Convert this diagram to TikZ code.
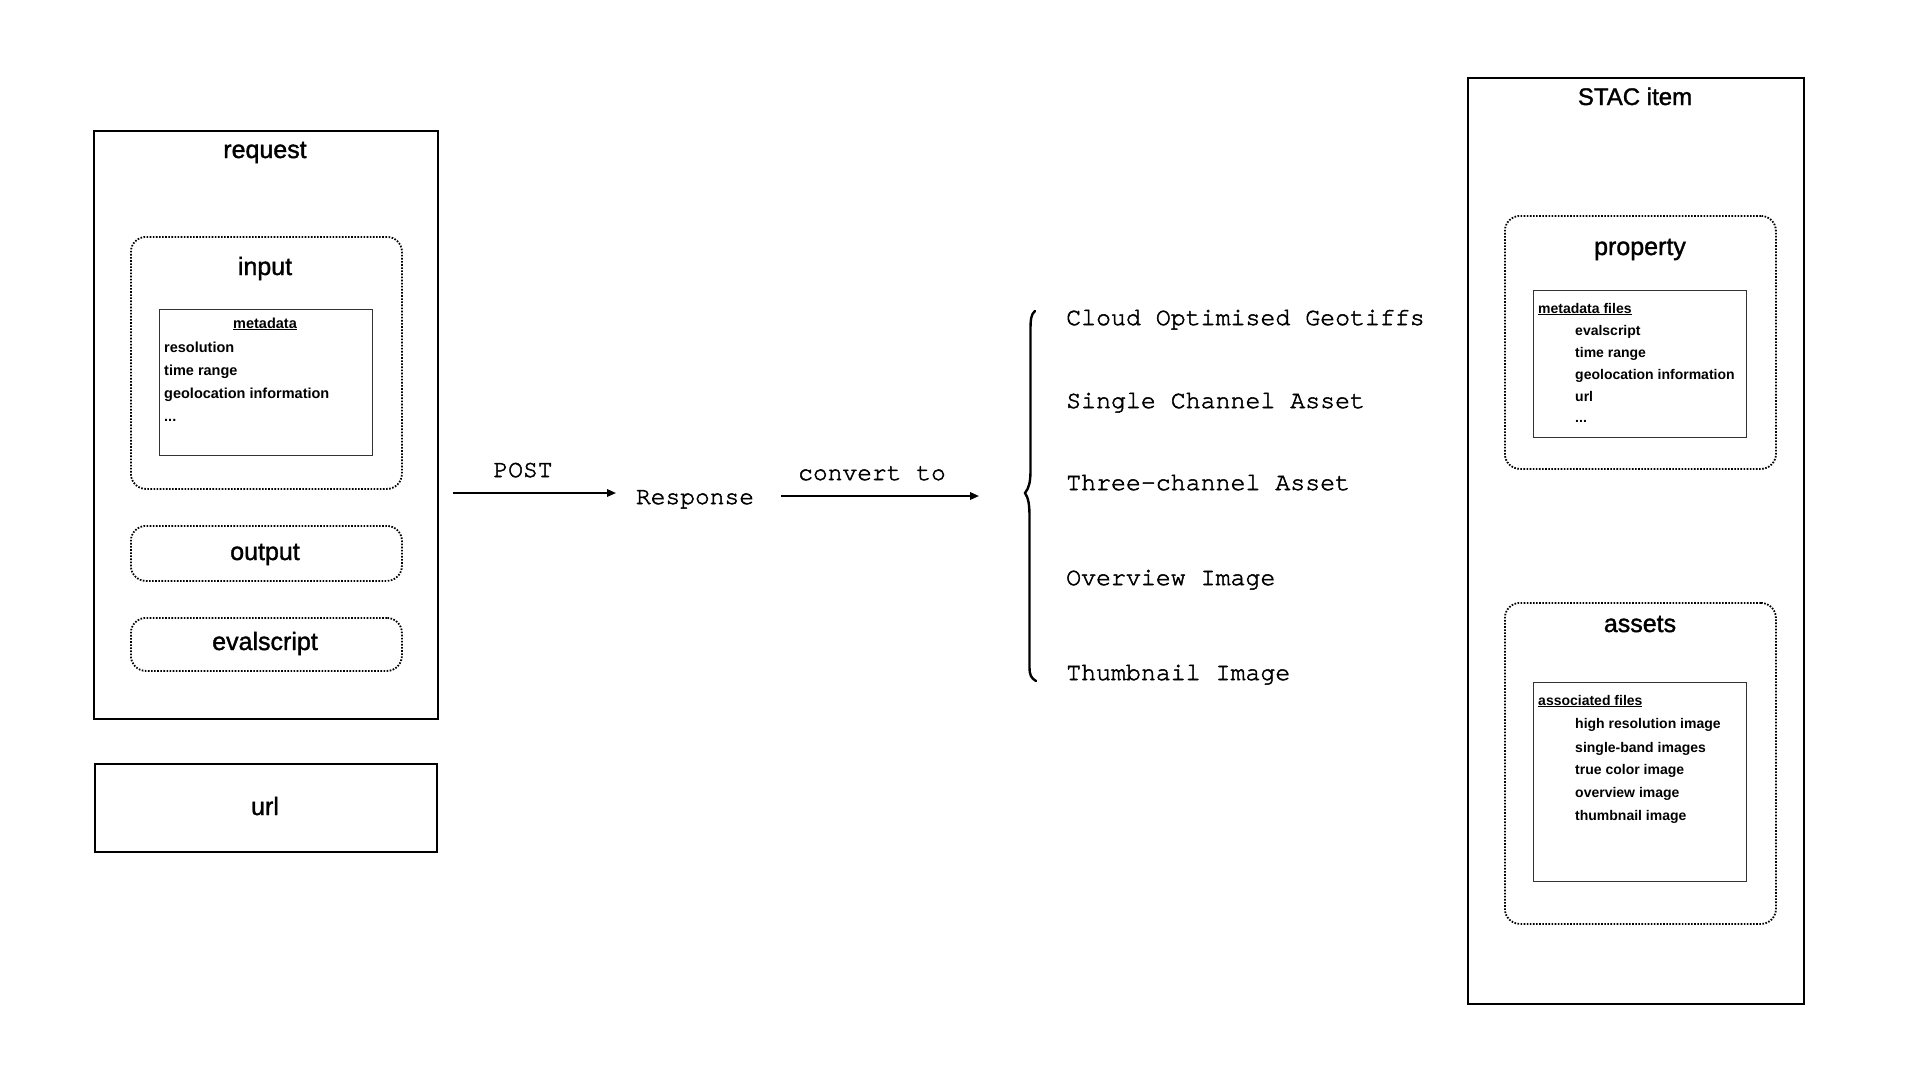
\documentclass[tikz,border=0pt]{standalone}
\usepackage{fontspec}
\setmainfont{Liberation Sans}
\setmonofont{Liberation Mono}
\newfontfamily\titlefont{Liberation Sans}[FakeBold=1.4]
\newfontfamily\monobold{texgyrecursor-regular.otf}[FakeBold=2, Ligatures={NoCommon}]
\usetikzlibrary{arrows.meta}
\begin{document}
\begin{tikzpicture}[x=1pt,y=-1pt,
  outer/.style={draw, line width=2.4pt, rectangle, anchor=north west, inner sep=0pt},
  dotbox/.style={draw, line width=1.8pt, dash pattern=on 1.6pt off 1.5pt, rounded corners=15pt, rectangle, anchor=north west, inner sep=0pt},
  innerbox/.style={draw=black!80, line width=1.2pt, rectangle, anchor=north west, inner sep=0pt},
  title/.style={font=\titlefont\fontsize{25}{30}\selectfont, anchor=base, inner sep=0pt},
  small/.style={font=\bfseries\fontsize{14.5}{17}\selectfont, anchor=base west, inner sep=0pt},
  smallr/.style={font=\bfseries\fontsize{14}{17}\selectfont, anchor=base west, inner sep=0pt},
  smallc/.style={font=\bfseries\fontsize{14.5}{17}\selectfont, anchor=base, inner sep=0pt},
  mono/.style={font=\monobold\fontsize{24.6}{28}\selectfont, anchor=base, inner sep=0pt},
  listtxt/.style={font=\monobold\fontsize{24.9}{28}\selectfont, anchor=base west, inner sep=0pt},
  arr/.style={line width=1.8pt, -{Triangle[length=9pt,width=7.5pt]}},
  bracestyle/.style={line width=2.4pt, line cap=round}
]
\useasboundingbox (0,0) rectangle (1920,1080);
\fill[white] (0,0) rectangle (1920,1080);

% ---------- request side ----------
\node[outer, minimum width=344pt, minimum height=588pt] (req) at (93,130) {};
\node[title] (reqt) at (265,158) {request};
\node[dotbox, minimum width=271pt, minimum height=252pt] (inp) at (130,236) {};
\node[title] (inpt) at (265,275) {input};
\node[innerbox, minimum width=213pt, minimum height=146pt] (meta) at (159,309) {};
\node[smallc] (metat) at (265,328) {\underline{metadata}};
\node[small] (m1) at (164,352) {resolution};
\node[small] (m2) at (164,375) {time range};
\node[small] (m3) at (164,398) {geolocation information};
\node[small] (m4) at (164,421) {...};
\node[dotbox, minimum width=271pt, minimum height=55pt] (outb) at (130,525) {};
\node[title] (outt) at (265,560) {output};
\node[dotbox, minimum width=271pt, minimum height=53pt] (evb) at (130,617) {};
\node[title] (evt) at (265,650) {evalscript};
\node[outer, minimum width=342pt, minimum height=88pt] (urlb) at (94,763) {};
\node[title] (urlt) at (265,815) {url};

% ---------- middle ----------
\node[mono] (post) at (523,477) {POST};
\node[mono] (resp) at (695,504) {Response};
\node[mono] (conv) at (872,480) {convert to};
\coordinate (a1s) at (453,493);
\coordinate (a1e) at (616,493);
\coordinate (a2s) at (781,496);
\coordinate (a2e) at (979,496);
\draw[arr] (a1s) -- (a1e);
\draw[arr] (a2s) -- (a2e);

% brace
\draw[bracestyle] (1035,311) .. controls (1031,314) and (1030.5,320) .. (1030.5,330)
  -- (1030.5,470) .. controls (1030.5,482) and (1029,488) .. (1025,493)
  .. controls (1028.5,498) and (1029.5,505) .. (1029.5,517)
  -- (1029.5,667) .. controls (1029.5,675) and (1031,678) .. (1036,681);

\node[listtxt] (l1) at (1066,325) {Cloud Optimised Geotiffs};
\node[listtxt] (l2) at (1066,408) {Single Channel Asset};
\node[listtxt] (l3) at (1066,490) {Three-channel Asset};
\node[listtxt] (l4) at (1066,585) {Overview Image};
\node[listtxt] (l5) at (1066,680) {Thumbnail Image};

% ---------- STAC item ----------
\node[outer, minimum width=336pt, minimum height=926pt] (stac) at (1467,77) {};
\node[title, font=\titlefont\fontsize{24}{28}\selectfont] (stact) at (1635,105) {STAC item};
\node[dotbox, minimum width=271pt, minimum height=253pt] (prop) at (1504,215) {};
\node[title] (propt) at (1640,255) {property};
\node[innerbox, minimum width=213pt, minimum height=147pt] (mf) at (1533,290) {};
\node[smallr] (mft) at (1538,313) {\underline{metadata files}};
\node[smallr] (p1) at (1575,335) {evalscript};
\node[smallr] (p2) at (1575,357) {time range};
\node[smallr] (p3) at (1575,379) {geolocation information};
\node[smallr] (p4) at (1575,401) {url};
\node[smallr] (p5) at (1575,422) {...};

\node[dotbox, minimum width=271pt, minimum height=321pt] (ass) at (1504,602) {};
\node[title] (asst) at (1640,632) {assets};
\node[innerbox, minimum width=213pt, minimum height=199pt] (af) at (1533,682) {};
\node[smallr] (aft) at (1538,705) {\underline{associated files}};
\node[smallr] (q1) at (1575,728) {high resolution image};
\node[smallr] (q2) at (1575,752) {single-band images};
\node[smallr] (q3) at (1575,774) {true color image};
\node[smallr] (q4) at (1575,797) {overview image};
\node[smallr] (q5) at (1575,820) {thumbnail image};
\end{tikzpicture}
\end{document}
